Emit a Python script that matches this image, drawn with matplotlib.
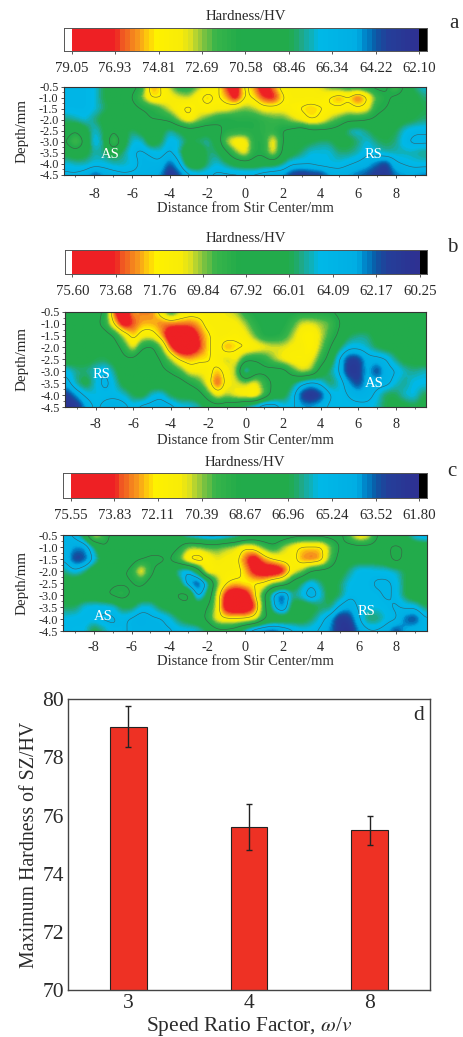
import numpy as np
import matplotlib.pyplot as plt
from matplotlib.colors import LinearSegmentedColormap, ListedColormap

plt.rcParams['font.family'] = ['Liberation Serif', 'DejaVu Serif']
plt.rcParams['mathtext.fontset'] = 'stix'

W, H = 464, 1037
ink = '#2a2a2a'

# hardness readings: columns x = -9.5..9.5 (0.5 mm), rows depth -0.5..-4.5
x_mm = np.arange(-9.5, 9.75, 0.5)
depth_mm = np.arange(-0.5, -4.75, -0.5)

hard_a = [
    [66.5,66.5,66.5,67,68.5,69,70,70,71,76, 75,73,71,71,72.5,74,74,77,78.5,74, 76,78.5,76,74,74,74,74,73.5,72,71.5, 71,71,70.5,70,70,73,70,68,67],
    [66.5,66.5,66.5,67,68.5,69,70,70.5,72.5,75, 75,74,73.5,73,74.5,75.5,74.5,75.5,78,74.5, 75,77,77.5,75,74,74,74,74,75,76, 75,77,75,72,71,70,69.5,69,68],
    [66.5,66.5,66.5,67,68,69,69.5,70,70.5,71, 72,73.5,74.5,75.5,74,74.5,74,74,73,72.5, 73,74,74,74,74.5,75,75.5,75,74.5,74.5, 74,74.5,74,71,70.5,70,69.5,69,68.5],
    [68,67.5,67,68,69,70,70,70,70,70.5, 70.5,71,73,74.5,73,72,71,70.5,71,71, 71,71.5,72,72,73,74,75,74.5,73,72, 71,71,70.5,70,70,69.5,69,68.5,68],
    [69.5,70.5,69,67,68.5,70.5,69,68,69,70, 69,67.5,68.5,69.5,69.5,69,70,71,71,71, 71,71.5,71.5,70.5,70,69,70,70,70,69.5, 67.5,67,68,69,69,68.5,67,66.5,66.5],
    [70.5,73,70,66.5,68,73,69.5,67,67,69.5, 68.5,66.5,67,68.5,68,67.5,69,73,74.5,74.5, 71,71,74.5,70.5,69,69,68.5,68,68,69, 69,68,67,68,68.5,68,66.5,66,66],
    [69,69.5,69,67.5,68,69,68,66.5,66,66.5, 67,66,67.5,70.5,70.5,68,68,70,72.5,74, 71,71,74,70,69,68,67,67,67,68, 68,67.5,66.5,67,67.5,67.5,67.5,67.5,68],
    [67,67.5,67.5,67,67,67.5,67.5,67,66,66, 66,64,66,69.5,70,68,67,68,69,69.5, 69.5,69,69,68,66.5,66.5,66.5,67,67,67, 66.5,66,65.5,64.5,63.5,66,66.5,67,67],
    [66,66,65.5,64,65,65.5,66,66,66,65.5, 65,62.8,64,66,66.5,66.5,66,66,66,66, 66,65.5,65,65,63.5,63,63.5,63.5,65,65.5, 65,64.5,64,63.2,63,64.5,65,65,64.5],
]
hard_b = [
    [67.5,67.5,67.5,67.5,68,74,75,72.5,73,73, 71,68,70,71,71,71,71,70.5,70,68.5, 68,68,68,68,68,68,68,68,68,67.5, 67,67,67,67,67,67,67,67,67],
    [67.5,67.5,67.5,67.5,68.5,72,75,73.5,72.5,72.5, 73,73,73,73,72.5,71,71,71,71,70, 68.5,68,68,68,69,70.5,70.5,70,69.5,68, 67,67,67,67,67,67,67,67,67],
    [67.5,67.5,67.5,67.5,67,68,70.5,72.5,71,71, 72.5,75.5,75.6,75.5,73.5,72,71,71,71.5,71, 69.5,68,68,68.5,70,71.5,72,70.5,69,67.5, 66,65.5,65.5,66.5,66.5,67,67,67,67],
    [67,67,67,66.5,66,67,68.5,71,68,67.5, 69.5,73.5,75.6,75.6,74,72,71,73,72,72, 71.5,71,70.5,70.5,71,71,72,70,68,66, 64.5,64.5,65,66,66.5,66.5,67,67,67],
    [67,66.5,66.5,66,66,66.5,67.5,67.5,66,67, 68,70,72,72.5,72,72,71,70,71,68.5, 68,68.5,70,71,71.5,71.5,71,69,67,64, 61.5,61.5,63.5,63.5,64,65.5,66.5,66.5,67],
    [64.5,65.5,65.5,64.8,64,65.5,67,67,67,67, 67.5,68,69,71,71,71,72.5,71,70,63.5, 67,67.5,67,67,69,70.5,70,67,65.5,64, 61,61,63.5,61.5,63.5,64,65,65.5,65],
    [63.5,65.5,66.5,64.8,63.5,64.8,66.5,67,67,67, 67,67,67,68,69,71,74,71,70.5,70, 71,69,67.5,67,66,64.5,63.5,64.5,66,65, 63,61.5,63.5,63.5,63.5,64.8,65.5,64.5,64.5],
    [61.5,63,64.5,64.8,64.5,64.5,64.8,66,66.5,64.8, 64.5,66,66.5,66.5,67,69,71,70,71,71.5, 72,69.5,67,66.5,64.8,61.5,60.6,61.5,64,64.8, 64,63.5,63.5,64.5,66,66,64.8,64.5,66],
    [60.5,61,63,64.5,63.5,63,63.5,64.5,63.5,63.5, 63,63.5,64.5,64.5,65,66.5,67,66.5,66,64.8, 64,62.5,63,64.5,64.5,63,63,63.5,64.5,64.5, 64.5,64.5,64.5,65,66,66.5,66.5,66,66.5],
]
hard_c = [
    [65,65.5,67.5,71.5,70,68,68,68,68,67.5, 67.5,67.5,67,65.5,65,64.5,64.5,65,65.5,66.5, 67,67,67,67.5,68,68,68,68,68,68, 70,72,71.5,68.5,68,67.5,67,65.5,65],
    [65,64,64,66.5,68.5,68,68,68,68,68, 68,68,68.5,70.5,70.5,70,70,70.5,71,72, 71.5,70,69,70.5,71.5,72.5,72.5,72.5,70.5,68.5, 68,68,68,68,68.5,69,68.5,68,68],
    [65,62.8,63.2,65.5,67.5,66.8,67.5,68,68.5,69, 69,68.5,70,72.5,73.2,72,71,71.5,71.5,73.5, 75,73,72,71.5,71.5,73,73.5,73,70,68, 67.5,67.5,67.5,67.5,68,69.5,68,68,68],
    [66.5,65.5,66.5,68,68,68,68.5,69,72,69, 68,68,65.8,65,67.5,72,71.5,71.5,71.5,72.5, 74.5,75,75.5,74.5,71.5,70.5,68.5,68,68,67.5, 66.5,65.5,65.5,65.7,65.7,66,67,67.5,67.5],
    [67.5,68,68,68,68,68.5,68.5,68.5,69,68, 68,68,67.5,64.3,62.8,65.5,70,72,72.5,72, 72,72,70.5,70,68,66.5,65.3,66.5,67.5,66.8, 65.7,65.5,65.5,65,65,65.5,67,67.5,67.5],
    [67.5,68,68,68,68.5,69,69.5,68.5,68,68, 68,68,69,69.5,64.5,67,71,74.5,75.5,75, 72.5,69,65,63,66.5,65.7,64.3,65.7,67.5,66.8, 65.5,65.5,65.5,65.5,65,65.5,67,68,68],
    [66.8,66.8,65.7,65.5,65.5,65.7,67,67,65.7,65.7, 67,67.5,68,68,68,68.5,71,75,75.5,75.5, 74,69.5,65.5,63.5,67.5,68,67.5,66.8,66.8,65, 64.3,65.5,65.7,65.7,65.5,65,65.5,65.5,66.8],
    [65.7,65.5,65.5,65.5,65,65,65.5,65,64.5,65, 65,65.7,66.8,67.5,68,69,71.5,72,72,72, 71.5,69,68,68,67.5,67.5,66.8,65.7,64.5,62.5, 62.8,65,66.8,66.8,65.7,65.5,63.5,63,65],
    [65.5,65.7,65.7,67.3,66.5,65.5,65.5,65,65,65, 65,65,65.5,65.5,65.7,66.8,68,68,67.5,65.5, 64,63.5,63.2,64,65,65.5,65.5,65,64,62.5, 62,64,65,65,64.5,63,64.5,65,65],
]

ticks_a = ['79.05', '76.93', '74.81', '72.69', '70.58', '68.46', '66.34', '64.22', '62.10']
ticks_b = ['75.60', '73.68', '71.76', '69.84', '67.92', '66.01', '64.09', '62.17', '60.25']
ticks_c = ['75.55', '73.83', '72.11', '70.39', '68.67', '66.96', '65.24', '63.52', '61.80']

ratio = ['3', '4', '8']
max_hard = [79.05, 75.6, 75.5]
max_err = [0.7, 0.8, 0.5]

# colour scale, 0 = top of scale (left end)
stops = [(0, '#ee2024'), (0.12, '#ee2024'), (0.135, '#ef4e23'), (0.18, '#f7941d'), (0.21, '#fdc40f'),
         (0.235, '#fff200'), (0.31, '#f8ec08'), (0.34, '#d7df23'), (0.37, '#8dc63f'), (0.41, '#39b54a'),
         (0.48, '#22ab4b'), (0.63, '#22ac4c'), (0.665, '#1fa98a'), (0.715, '#00b9e8'), (0.825, '#00aee4'),
         (0.85, '#0084c8'), (0.88, '#0b5aa5'), (0.91, '#24409a'), (1, '#2e3192')]
cmap = ListedColormap(LinearSegmentedColormap.from_list('hv', stops)(np.linspace(0, 1, 72)[::-1]))


def px_axes(x0, x1, y0, y1):
    return fig.add_axes([x0 / W, 1 - y1 / H, (x1 - x0) / W, (y1 - y0) / H])


def smooth_field(z, xf, yf):
    # resample the readings on a fine grid and soften them
    z = np.array(z, dtype=float)
    rows = np.array([np.interp(xf, x_mm, r) for r in z])
    out = np.array([np.interp(-yf, -depth_mm, rows[:, j]) for j in range(rows.shape[1])]).T
    kx = np.ones(7) / 7
    ky = np.ones(11) / 11
    for i in range(2):
        pad = np.pad(out, ((6, 6), (6, 6)), mode='edge')
        pad = np.apply_along_axis(lambda v: np.convolve(v, ky, mode='same'), 0, pad)
        pad = np.apply_along_axis(lambda v: np.convolve(v, kx, mode='same'), 1, pad)
        out = pad[6:-6, 6:-6]
    return out


def color_bar(x0, x1, y0, y1, t0, t1, labels, title, title_y):
    vals = [float(s) for s in labels]
    top, low = vals[0], vals[-1]
    per_px = (top - low) / (t1 - t0)
    ax = px_axes(x0, x1, y0, y1)
    ax.imshow(np.linspace(top, low, 72)[None, :], extent=[top, low, 0, 1], aspect='auto', cmap=cmap,
              vmin=low, vmax=top, interpolation='nearest')
    ax.set_xlim(top + (t0 - x0) * per_px, low - (x1 - t1) * per_px)
    ax.set_ylim(0, 1)
    ax.axvspan(low, low - (x1 - t1) * per_px, color='black', lw=0)
    ax.set_yticks([])
    ax.set_xticks(vals)
    ax.set_xticklabels(labels, fontsize=10.7, color=ink)
    ax.tick_params(axis='x', length=2.5, width=0.7, color='#555555', pad=5.5)
    for s in ax.spines.values():
        s.set_linewidth(0.7)
        s.set_color('#555555')
    fig.text((x0 + x1) / 2 / W, 1 - title_y / H, title, ha='center', va='center', fontsize=10.7, color=ink)
    return top, low


def hard_map(x0, x1, y0, y1, z, top, low, levels, tick_pad, label_y):
    ax = px_axes(x0, x1, y0, y1)
    xlim = (-9.61, 9.61)
    xf = np.linspace(xlim[0], xlim[1], 381)
    yf = np.linspace(-0.5, -4.5, 161)
    f = smooth_field(z, xf, yf)
    ax.imshow(f, extent=[xlim[0], xlim[1], -4.5, -0.5], aspect='auto', cmap=cmap, vmin=low, vmax=top,
              interpolation='bilinear')
    ax.contour(xf, yf, f, levels=sorted(levels), colors='#444444', linewidths=0.45, alpha=0.7)
    ax.set_xlim(xlim)
    ax.set_ylim(-4.5, -0.5)
    ax.set_xticks(np.arange(-8, 9, 2))
    ax.set_xticks(np.arange(-9, 10, 1), minor=True)
    ax.set_yticks(depth_mm)
    ax.set_yticks(np.arange(-4.25, -0.5, 0.5), minor=True)
    ax.set_xticklabels(['-8', '-6', '-4', '-2', '0', '2', '4', '6', '8'], fontsize=10.3, color=ink)
    ax.set_yticklabels(['%.1f' % d for d in depth_mm], fontsize=8.8, color=ink)
    ax.tick_params(axis='both', which='major', length=2.5, width=0.6, pad=1.5, color='#333333')
    ax.tick_params(axis='x', which='major', pad=tick_pad)
    ax.tick_params(axis='both', which='minor', length=1.5, width=0.5, color='#333333')
    ax.set_xlabel('Distance from Stir Center/mm', fontsize=10.5, color=ink, va='center')
    ax.xaxis.set_label_coords(0.5, -(label_y - y1) / (y1 - y0))
    ax.set_ylabel('Depth/mm', fontsize=10.8, color=ink, va='center')
    ax.yaxis.set_label_coords((22.2 - x0) / (x1 - x0), 0.5)
    for s in ax.spines.values():
        s.set_linewidth(0.8)
        s.set_color('#333333')
    return ax


def white_tag(x, y, s):
    fig.text(x / W, 1 - y / H, s, color='white', ha='center', va='center', fontsize=10.5)


fig = plt.figure(figsize=(W / 100, H / 100), dpi=100)

top, low = color_bar(64, 427, 28.3, 50.7, 71.6, 419.4, ticks_a, 'Hardness/HV', 17)
hard_map(64, 426, 86.7, 175, hard_a, top, low, [float(ticks_a[i]) for i in (2, 4, 6)], 6.7, 209)
white_tag(110, 154, 'AS')
white_tag(374, 154, 'RS')
fig.text(454 / W, 1 - 23 / H, 'a', fontsize=15, ha='center', va='center', color=ink)

top, low = color_bar(65, 427.3, 250.3, 274.3, 72.3, 419.7, ticks_b, 'Hardness/HV', 238.5)
hard_map(65.3, 426, 311.7, 407, hard_b, top, low, [float(ticks_b[i]) for i in (2, 4, 6)], 5.2, 440)
white_tag(101.7, 375, 'RS')
white_tag(374.3, 383.3, 'AS')
fig.text(452.7 / W, 1 - 247 / H, 'b', fontsize=15, ha='center', va='center', color=ink)

top, low = color_bar(63.3, 427.3, 473.3, 497.7, 70.7, 419.3, ticks_c, 'Hardness/HV', 462)
hard_map(63.3, 426.7, 535.3, 631, hard_c, top, low, [float(ticks_c[i]) for i in (2, 4, 6)], 4.7, 661.7)
white_tag(103.3, 617, 'AS')
white_tag(366.7, 611.3, 'RS')
fig.text(451.7 / W, 1 - 472 / H, 'c', fontsize=15, ha='center', va='center', color=ink)

# panel d
ax = px_axes(68, 430, 699, 990.3)
pos = np.arange(len(ratio))
ax.bar(pos, max_hard, width=0.305, color='#ee3124', edgecolor='#222222', linewidth=0.8)
ax.errorbar(pos, max_hard, yerr=max_err, fmt='none', ecolor='#222222', elinewidth=1, capsize=2.5, capthick=1)
ax.set_xlim(-0.5, 2.5)
ax.set_ylim(70, 80)
ax.set_xticks(pos)
ax.set_xticklabels(ratio, fontsize=15.5, color=ink)
ax.set_yticks([70, 72, 74, 76, 78, 80])
ax.set_yticklabels(['70', '72', '74', '76', '78', '80'], fontsize=15.5, color=ink)
ax.tick_params(axis='both', length=0, pad=3)
ax.set_xlabel(r'Speed Ratio Factor, $\omega$/$v$', fontsize=15.4, color=ink, va='center')
ax.xaxis.set_label_coords(0.5, -36.4 / 291.3)
ax.set_ylabel('Maximum Hardness of SZ/HV', fontsize=14.3, color=ink, va='center')
ax.yaxis.set_label_coords((29.5 - 68) / 362, 0.5)
for s in ax.spines.values():
    s.set_linewidth(1)
    s.set_color('#444444')
ax.text(0.968, 0.945, 'd', transform=ax.transAxes, fontsize=15.5, ha='center', va='center', color=ink)

plt.savefig('out.png', dpi=100)
